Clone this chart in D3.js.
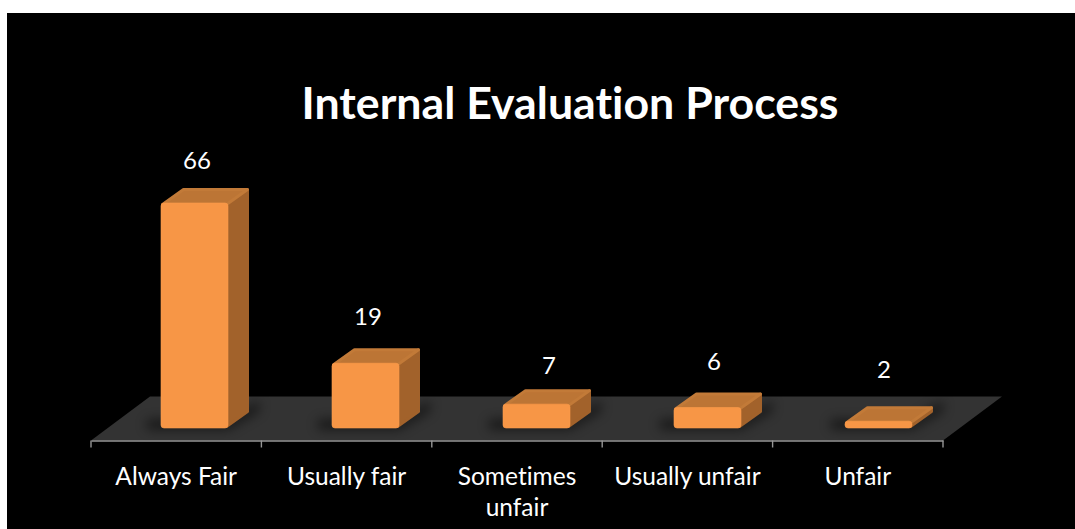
<!DOCTYPE html>
<html><head><meta charset="utf-8">
<script src="https://cdn.jsdelivr.net/npm/d3@7"></script>
<style>html,body{margin:0;padding:0;background:#fff;overflow:hidden}svg{display:block}text{font-family:Lato,"Open Sans",sans-serif;font-variant-ligatures:none}</style>
</head><body><div id="c"></div>
<script>
const categories = ["Always Fair","Usually fair","Sometimes unfair","Usually unfair","Unfair"];
const values = [66,19,7,6,2];
const titleText = "Internal Evaluation Process";

const W=1075,H=529;
const svg=d3.select("#c").append("svg").attr("width",W).attr("height",H);
const defs=svg.append("defs");
defs.append("filter").attr("id","blur").attr("x","-40%").attr("y","-60%").attr("width","180%").attr("height","220%")
  .append("feGaussianBlur").attr("stdDeviation",6);

svg.append("rect").attr("x",7).attr("y",13).attr("width",W-7).attr("height",H-13).attr("fill","#000");

const axisY=440.5, baseY=428, depthX=21, depthY=15, backDx=59, backDy=44;
const x=d3.scaleBand().domain(categories).range([91,943]);
const barX=d3.scaleBand().domain(categories).range([161,161+171*5]);
const y=d3.scaleLinear().domain([0,66]).range([baseY,203]);
const barW=67, r=1.5;

svg.append("path").attr("fill","#333333")
  .attr("d",d3.line()([[x.range()[0],axisY],[x.range()[0]+backDx,axisY-backDy],[x.range()[1]+backDx,axisY-backDy],[x.range()[1],axisY]])+"Z");

const axis=d3.axisBottom(x).tickSize(0).tickFormat("");
const ax=svg.append("g").attr("transform",`translate(0,${axisY})`).call(axis);
ax.select(".domain").attr("stroke","#969696").attr("stroke-width",1.6);
const edges=categories.map(c=>x(c)).concat(x.range()[1]);
svg.append("g").selectAll("line").data(edges).join("line")
  .attr("x1",d=>d).attr("x2",d=>d).attr("y1",axisY).attr("y2",axisY+7)
  .attr("stroke","#969696").attr("stroke-width",1.4);

const g=svg.append("g").selectAll("g").data(categories.map((c,i)=>({c,v:values[i]}))).join("g");
g.append("path").attr("fill","#000").attr("opacity",0.6).attr("filter","url(#blur)")
  .attr("d",d=>{const l=barX(d.c);return d3.line()([[l-14,baseY+1],[l+barW,baseY+1],[l+barW+depthX+10,baseY-depthY-2],[l+barW+depthX+10,baseY-depthY-12],[l+barW,baseY-8],[l-14,baseY-8]])+"Z"});
const pj=d3.line().curve(d3.curveLinearClosed);
const rounded=sel=>sel.attr("stroke-width",r*2).attr("stroke-linejoin","round");
g.append("path").attr("fill","#A2622B").attr("stroke","#A2622B").call(rounded)
  .attr("d",d=>{const l=barX(d.c)+barW-r,t=y(d.v)+r;return pj([[l,t],[l+depthX,t-depthY],[l+depthX,baseY-depthY-r],[l,baseY-r]])});
g.append("path").attr("fill","#BC7535").attr("stroke","#C27A38").call(rounded)
  .attr("d",d=>{const l=barX(d.c)+r,t=y(d.v)+r;return pj([[l,t],[l+depthX,t-depthY],[l+barW+depthX-2*r,t-depthY],[l+barW-2*r,t]])});
g.append("rect").attr("x",d=>barX(d.c)).attr("y",d=>y(d.v)).attr("width",barW)
  .attr("height",d=>baseY-y(d.v)).attr("rx",3).attr("fill","#F79646").attr("stroke","#FB9A4A").attr("stroke-width",0.6);

const labelNudgeX=[-8,-8,2,-4,-5], labelGapY=[27,31,23,31,36];
svg.append("g").selectAll("text").data(values).join("text")
  .attr("x",(d,i)=>barX(categories[i])+(barW+depthX)/2+labelNudgeX[i])
  .attr("y",(d,i)=>y(d)-depthY-labelGapY[i]+8)
  .attr("text-anchor","middle").attr("fill","#fff").attr("font-size",24).text(d=>d);

const labelLines={"Sometimes unfair":["Sometimes","unfair"]};
svg.append("g").selectAll("text").data(categories).join("text")
  .attr("text-anchor","middle").attr("fill","#fff").attr("font-size",24.5)
  .attr("transform",d=>`translate(${x(d)+x.bandwidth()/2},485)`)
  .each(function(d){
    d3.select(this).selectAll("tspan").data(labelLines[d]||[d]).join("tspan")
      .attr("x",0).attr("y",(t,i)=>i*31).text(t=>t);
  });

svg.append("text").attr("x",570).attr("y",119).attr("text-anchor","middle").attr("fill","#fff")
  .attr("font-size",44.7).attr("font-weight",700).text(titleText);
</script></body></html>
